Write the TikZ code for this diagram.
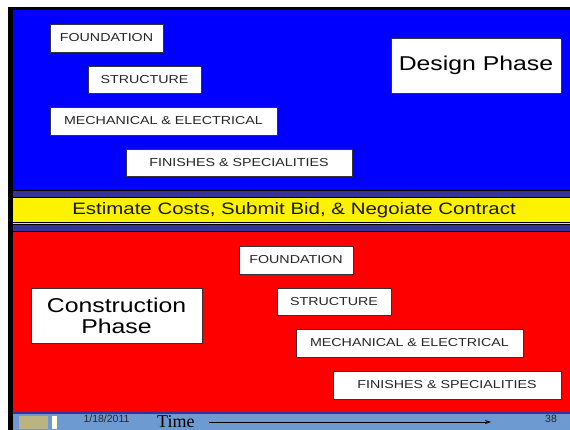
\documentclass[tikz,border=0pt]{standalone}
\usepackage{fontspec}
\setmainfont{Liberation Sans}
\newfontfamily\slidefont{Liberation Sans}[FakeStretch=1.24]
\newfontfamily\timefont{Liberation Serif}
\usetikzlibrary{arrows.meta}
\definecolor{slideblue}{HTML}{0000FF}
\definecolor{bandnavy}{HTML}{333399}
\definecolor{footblue}{HTML}{6D9BD1}
\definecolor{olivebox}{HTML}{B8B580}
\newcommand{\boxsize}{\fontsize{11.5}{13}\selectfont}
\newcommand{\phasesize}{\fontsize{20}{21}\selectfont}

\begin{document}
\begin{tikzpicture}[x=1pt,y=-1pt,
    task/.style={draw=black!80, fill=white, line width=0.8pt, inner sep=0pt,
        minimum height=28pt, text=black!85, font=\slidefont\boxsize},
    phase/.style={draw=black!80, fill=white, line width=0.8pt, inner sep=0pt,
        minimum width=171pt, minimum height=55pt, align=center,
        font=\slidefont\phasesize}]
    \useasboundingbox (0,0) rectangle (570,430);

    % Slide frame and bands
    \fill[black] (8,7) rectangle (570,430);
    \fill[slideblue] (12.5,10) rectangle (570,190);
    \fill[bandnavy] (12.5,191) rectangle (570,196.7);
    \fill[yellow] (12.5,197.7) rectangle (570,221.7);
    \fill[yellow] (12.5,222.7) rectangle (570,224.3);
    \fill[bandnavy] (12.5,225) rectangle (570,231);
    \fill[red] (12.5,232.3) rectangle (570,411.8);
    \fill[bandnavy] (12.5,411.8) rectangle (570,413.5);
    \fill[footblue] (12.5,413.5) rectangle (570,430);

    % Design phase
    \node[task, minimum width=113pt] (dfound) at (106.5,38) {FOUNDATION};
    \node[task, minimum width=113pt, minimum height=27pt] (dstruct) at (144.5,79.5) {STRUCTURE};
    \node[task, minimum width=227pt] (dmech) at (163.5,121) {MECHANICAL \& ELECTRICAL};
    \node[task, minimum width=226pt, minimum height=27pt] (dfin) at (239,162.5) {FINISHES \& SPECIALITIES};
    \node[phase, minimum width=170pt] (design) at (476,65.5) {Design Phase};

    % Bid band
    \node[font=\slidefont\fontsize{16.5}{18}\selectfont, text=black!90] (bid) at (294,210)
        {Estimate Costs, Submit Bid, \& Negoiate Contract};

    % Construction phase
    \node[phase] (constr) at (116.5,315.5) {Construction\\Phase};
    \node[task, minimum width=114pt] (cfound) at (296,260) {FOUNDATION};
    \node[task, minimum width=114pt, minimum height=27pt] (cstruct) at (334,301.5) {STRUCTURE};
    \node[task, minimum width=227pt] (cmech) at (409.5,343) {MECHANICAL \& ELECTRICAL};
    \node[task, minimum width=228pt] (cfin) at (447,385) {FINISHES \& SPECIALITIES};

    % Footer
    \fill[olivebox] (19,415.5) rectangle (48,428.5);
    \fill[white!90!yellow] (52,415.5) rectangle (57,428.5);
    \node[font=\fontsize{10.5}{12}\selectfont, text=black!85] (date) at (106.5,418.5) {1/18/2011};
    \node[font=\fontsize{10.5}{12}\selectfont, text=black!85] (page) at (551,418.5) {38};
    \node[anchor=base west, inner sep=0pt, font=\timefont\fontsize{18}{20}\selectfont] (time) at (157,427.5) {Time};
    \coordinate (tstart) at (209,422);
    \coordinate (tend) at (491,422);
    \draw[-{Stealth[length=6pt,width=4pt]}, line width=1pt] (tstart) -- (tend);
\end{tikzpicture}
\end{document}
